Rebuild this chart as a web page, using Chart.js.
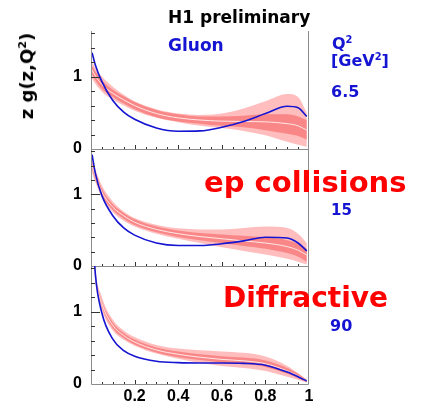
<!DOCTYPE html>
<html>
<head>
<meta charset="utf-8">
<script src="https://cdn.jsdelivr.net/npm/chart.js@4.4.1/dist/chart.umd.min.js"></script>
<style>
  body { margin: 0; background: #fff; }
  #wrap { position: relative; width: 428px; height: 404px; overflow: hidden; font-family: 'DejaVu Sans', sans-serif; font-weight: bold; }
  canvas { position: absolute; left: 0; }
  .lbl { position: absolute; line-height: 1; white-space: nowrap; }
  .blue { color: #1414d2; }
  .red { color: #ff0000; }
  sup { font-size: 0.62em; vertical-align: 0.6em; line-height: 0; }
</style>
</head>
<body>
<div id="wrap">
  <canvas id="panel1" width="428" height="160" style="top:0px"></canvas>
  <canvas id="panel2" width="428" height="135" style="top:140px"></canvas>
  <canvas id="panel3" width="428" height="148" style="top:256px"></canvas>

  <div class="lbl" style="left:168px;top:9px;font-size:17px;color:#000">H1 preliminary</div>
  <div class="lbl" style="left:27px;top:76px;font-size:18px;color:#000;transform:translate(-50%,-50%) rotate(-90deg)">z g(z,Q<sup>2</sup>)</div>
  <div class="lbl blue" style="left:168px;top:37px;font-size:17px">Gluon</div>
  <div class="lbl blue" style="left:332px;top:36px;font-size:16px">Q<sup>2</sup></div>
  <div class="lbl blue" style="left:331px;top:53px;font-size:16px">[GeV<sup>2</sup>]</div>
  <div class="lbl blue" id="q2a" style="left:331px;top:84px;font-size:16px"></div>
  <div class="lbl blue" id="q2b" style="left:331px;top:203px;font-size:15px"></div>
  <div class="lbl blue" id="q2c" style="left:330px;top:318px;font-size:16px"></div>
  <div class="lbl red" style="left:204px;top:168px;font-size:29px">ep collisions</div>
  <div class="lbl red" style="left:223px;top:284px;font-size:28px">Diffractive</div>
</div>

<script>
// z values shared by all three panels
const zGrid = [0.005, 0.02, 0.05, 0.1, 0.15, 0.2, 0.3, 0.4, 0.5, 0.6, 0.7, 0.8, 0.9, 0.95, 0.99];

const q2Values = ['6.5', '15', '90'];

// Q2 = 6.5
const gluonA   = [1.33, 1.16, 0.93, 0.67, 0.51, 0.41, 0.29, 0.245, 0.25, 0.30, 0.38, 0.49, 0.59, 0.57, 0.45];
const fitA     = [1.09, 1.01, 0.89, 0.77, 0.68, 0.60, 0.49, 0.43, 0.40, 0.385, 0.38, 0.375, 0.35, 0.32, 0.26];
const innerHiA = [1.15, 1.07, 0.95, 0.82, 0.73, 0.65, 0.54, 0.48, 0.45, 0.45, 0.46, 0.48, 0.48, 0.45, 0.40];
const innerLoA = [1.03, 0.95, 0.83, 0.72, 0.63, 0.55, 0.44, 0.38, 0.35, 0.32, 0.30, 0.26, 0.21, 0.18, 0.13];
const outerHiA = [1.21, 1.12, 1.00, 0.86, 0.75, 0.66, 0.55, 0.49, 0.47, 0.49, 0.56, 0.66, 0.76, 0.72, 0.50];
const outerLoA = [0.97, 0.90, 0.79, 0.68, 0.60, 0.53, 0.43, 0.37, 0.32, 0.29, 0.25, 0.19, 0.10, 0.06, 0.03];

// Q2 = 15
const gluonB   = [1.55, 1.29, 0.98, 0.70, 0.53, 0.43, 0.32, 0.285, 0.285, 0.31, 0.35, 0.40, 0.39, 0.32, 0.21];
const fitB     = [1.40, 1.26, 1.03, 0.82, 0.70, 0.61, 0.51, 0.45, 0.41, 0.38, 0.35, 0.32, 0.27, 0.22, 0.15];
const innerHiB = [1.45, 1.31, 1.075, 0.86, 0.74, 0.65, 0.55, 0.495, 0.46, 0.44, 0.42, 0.40, 0.36, 0.31, 0.24];
const innerLoB = [1.35, 1.21, 0.985, 0.78, 0.66, 0.57, 0.47, 0.405, 0.36, 0.32, 0.28, 0.24, 0.18, 0.13, 0.06];
const outerHiB = [1.50, 1.35, 1.12, 0.90, 0.76, 0.67, 0.575, 0.525, 0.51, 0.51, 0.53, 0.55, 0.53, 0.45, 0.32];
const outerLoB = [1.30, 1.17, 0.95, 0.75, 0.63, 0.55, 0.45, 0.38, 0.32, 0.26, 0.21, 0.16, 0.10, 0.06, 0.02];

// Q2 = 90
const gluonC   = [2.30, 1.52, 0.98, 0.62, 0.46, 0.385, 0.315, 0.295, 0.29, 0.29, 0.285, 0.26, 0.165, 0.10, 0.04];
const fitC     = [2.05, 1.49, 1.11, 0.81, 0.67, 0.58, 0.47, 0.41, 0.37, 0.34, 0.32, 0.28, 0.18, 0.11, 0.04];
const innerHiC = [2.09, 1.53, 1.15, 0.85, 0.705, 0.615, 0.505, 0.45, 0.41, 0.385, 0.365, 0.325, 0.22, 0.14, 0.055];
const innerLoC = [2.01, 1.45, 1.07, 0.77, 0.635, 0.545, 0.435, 0.37, 0.33, 0.295, 0.275, 0.235, 0.14, 0.08, 0.025];
const outerHiC = [2.20, 1.58, 1.20, 0.89, 0.74, 0.65, 0.54, 0.49, 0.465, 0.45, 0.43, 0.38, 0.25, 0.15, 0.06];
const outerLoC = [1.90, 1.40, 1.02, 0.74, 0.61, 0.53, 0.42, 0.35, 0.29, 0.25, 0.22, 0.18, 0.10, 0.06, 0.02];

const yLabelTicks = [0, 1];
const xLabelTicks = [0.2, 0.4, 0.6, 0.8, 1];

const yMax = 1.63;

function pts(ys) {
    return zGrid.map((z, i) => ({ x: z, y: ys[i] }));
}

// frame and inward tick marks, placed through the chart scales
const axisFrame = {
    id: 'axisFrame',
    afterDatasetsDraw(chart) {
        const { ctx, chartArea: a, scales: { x, y } } = chart;
        ctx.save();
        ctx.strokeStyle = '#8c8c8c';
        ctx.lineWidth = 1;
        ctx.beginPath();
        ctx.moveTo(a.left + 0.5, a.top);
        ctx.lineTo(a.left + 0.5, a.bottom + 0.5);
        ctx.lineTo(a.right - 0.5, a.bottom + 0.5);
        ctx.lineTo(a.right - 0.5, a.top);
        ctx.stroke();

        ctx.strokeStyle = '#333';
        ctx.beginPath();
        for (let k = 1; k * 0.2 < y.max; k++) {
            const py = Math.round(y.getPixelForValue(k * 0.2)) + 0.5;
            const len = k === 5 ? 9 : 4;
            ctx.moveTo(a.left, py);
            ctx.lineTo(a.left + len, py);
        }
        for (let k = 1; k < 20; k++) {
            const px = Math.round(x.getPixelForValue(k * 0.05)) + 0.5;
            const len = k % 4 === 0 ? 4 : 2;
            ctx.moveTo(px, a.bottom);
            ctx.lineTo(px, a.bottom - len);
        }
        ctx.stroke();
        ctx.restore();
    }
};

const tickFont = { family: 'Liberation Sans', size: 16, weight: 'bold' };

function makeConfig(gluon, fit, innerHi, innerLo, outerHi, outerLo, padding, showX) {
    const common = { pointRadius: 0, cubicInterpolationMode: 'monotone', clip: 0 };
    return {
        type: 'line',
        data: {
            datasets: [
                { ...common, data: pts(gluon), borderColor: '#1414d2', borderWidth: 1.6, fill: false },
                { ...common, data: pts(fit), borderColor: 'rgba(255,236,236,0.95)', borderWidth: 1, fill: false },
                { ...common, data: pts(innerHi), borderColor: 'transparent', borderWidth: 0, backgroundColor: '#f98787', fill: '+1' },
                { ...common, data: pts(innerLo), borderColor: 'transparent', borderWidth: 0, fill: false },
                { ...common, data: pts(outerHi), borderColor: 'transparent', borderWidth: 0, backgroundColor: '#ffbdbd', fill: '+1' },
                { ...common, data: pts(outerLo), borderColor: 'transparent', borderWidth: 0, fill: false }
            ]
        },
        options: {
            responsive: false,
            animation: false,
            events: [],
            layout: { padding: padding },
            plugins: { legend: { display: false }, tooltip: { enabled: false } },
            scales: {
                x: {
                    type: 'linear',
                    min: 0,
                    max: 1,
                    display: showX,
                    grid: { display: false, drawTicks: false },
                    border: { display: false },
                    afterFit: (scale) => {
                        scale.height = showX ? 20 : 0;
                        scale.paddingLeft = 0;
                        scale.paddingRight = 0;
                    },
                    ticks: {
                        stepSize: 0.2,
                        autoSkip: false,
                        maxRotation: 0,
                        padding: 3,
                        color: '#000',
                        font: tickFont,
                        callback: (v) => xLabelTicks.some(t => Math.abs(t - v) < 1e-6) ? String(+v.toFixed(1)) : ''
                    }
                },
                y: {
                    min: 0,
                    max: yMax,
                    grid: { display: false, drawTicks: false },
                    border: { display: false },
                    afterFit: (scale) => {
                        scale.width = 91;
                        scale.paddingTop = 0;
                        scale.paddingBottom = 0;
                    },
                    ticks: {
                        stepSize: 0.2,
                        autoSkip: false,
                        padding: 9,
                        color: '#000',
                        font: tickFont,
                        callback: (v) => yLabelTicks.some(t => Math.abs(t - v) < 1e-6) ? String(Math.round(v)) : ''
                    }
                }
            }
        },
        plugins: [axisFrame]
    };
}

document.getElementById('q2a').textContent = q2Values[0];
document.getElementById('q2b').textContent = q2Values[1];
document.getElementById('q2c').textContent = q2Values[2];

new Chart(document.getElementById('panel1'),
    makeConfig(gluonA, fitA, innerHiA, innerLoA, outerHiA, outerLoA, { left: 0, right: 119, top: 31, bottom: 11 }, false));
new Chart(document.getElementById('panel2'),
    makeConfig(gluonB, fitB, innerHiB, innerLoB, outerHiB, outerLoB, { left: 0, right: 119, top: 9, bottom: 9 }, false));
new Chart(document.getElementById('panel3'),
    makeConfig(gluonC, fitC, innerHiC, innerLoC, outerHiC, outerLoC, { left: 0, right: 119, top: 10, bottom: 0 }, true));
</script>
</body>
</html>
